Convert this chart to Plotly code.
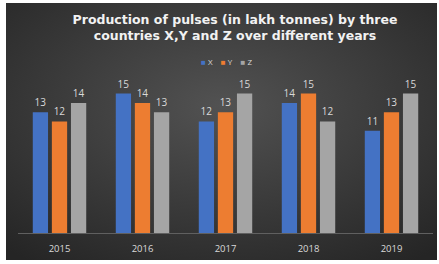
import base64
import plotly.graph_objects as go

years = ["2015", "2016", "2017", "2018", "2019"]
x_vals = [13, 15, 12, 14, 11]
y_vals = [12, 14, 13, 15, 13]
z_vals = [14, 13, 15, 12, 15]
series_names = ["X", "Y", "Z"]
colors = ["#4472C4", "#ED7D31", "#A5A5A5"]
title_text = "Production of pulses (in lakh tonnes) by three<br>countries X,Y and Z over different years"

W, H = 439, 264
L, R, T, B = 18, 6, 40, 31
plot_top = 75  # pixel y of top of y-axis domain

pw = W - L - R
ph = H - T - B

fig = go.Figure()
for name, vals, col in zip(series_names, [x_vals, y_vals, z_vals], colors):
    fig.add_trace(go.Bar(
        x=years, y=vals, name=name,
        marker=dict(color=col, line=dict(width=0)),
        text=[str(v) for v in vals], textposition="outside",
        textfont=dict(color="#d9d9d9", size=10, family="Open Sans"),
        cliponaxis=False, showlegend=False,
    ))

svg = (
    '<svg xmlns="http://www.w3.org/2000/svg" width="431" height="257" '
    'viewBox="0 0 431 257" preserveAspectRatio="none">'
    '<defs><radialGradient id="g" cx="50%" cy="40%" r="75%">'
    '<stop offset="0%" stop-color="#525252"/>'
    '<stop offset="100%" stop-color="#252525"/>'
    '</radialGradient></defs>'
    '<rect width="431" height="257" fill="url(#g)"/></svg>'
)
src = "data:image/svg+xml;base64," + base64.b64encode(svg.encode()).decode()

px0, px1 = 6, 437
py0, py1 = 3, 260
fig.add_layout_image(
    source=src, xref="paper", yref="paper",
    x=(px0 - L) / pw, y=(H - B - py0) / ph,
    sizex=(px1 - px0) / pw, sizey=(py1 - py0) / ph,
    xanchor="left", yanchor="top", sizing="stretch", layer="below",
)

# compact legend row
legend_html = "    ".join(
    f"<span style='color:{c}'>■</span> {n}" for n, c in zip(series_names, colors)
)
fig.add_annotation(
    text=legend_html, xref="paper", yref="paper",
    x=(227 - L) / pw, y=(H - B - 62) / ph, xanchor="center", yanchor="middle",
    showarrow=False, font=dict(color="#d9d9d9", size=8, family="Open Sans"),
)

fig.update_layout(
    width=W, height=H,
    margin=dict(l=L, r=R, t=T, b=B),
    paper_bgcolor="white", plot_bgcolor="rgba(0,0,0,0)",
    barmode="group", bargap=0.31, bargroupgap=0.2,
    showlegend=False,
    title=dict(text="<b>" + title_text + "</b>", x=235 / W, xanchor="center",
               y=1 - 24 / H, yanchor="middle",
               font=dict(color="#f2f2f2", size=12.5, family="DejaVu Sans")),
    xaxis=dict(showline=True, linecolor="#606060", linewidth=1, showgrid=False,
               tickfont=dict(color="#d9d9d9", size=9.5, family="Open Sans"),
               ticks="outside", ticklen=7, tickcolor="rgba(0,0,0,0)", fixedrange=True),
    yaxis=dict(range=[0, 17], domain=[0, (H - B - plot_top) / ph],
               showgrid=False, showticklabels=False, zeroline=False,
               showline=False, ticks="", fixedrange=True),
    font=dict(family="Open Sans"),
)

fig.write_html("out.html", config={"displayModeBar": False},
               post_script="document.body.style.margin='0';")
